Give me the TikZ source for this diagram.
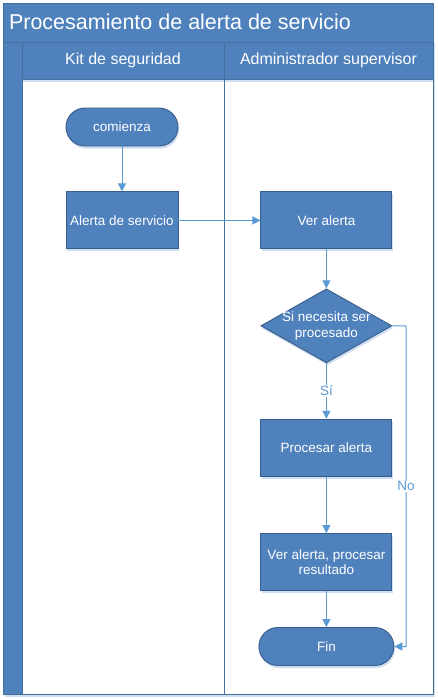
\documentclass[tikz,border=0pt]{standalone}
\usepackage{fontspec}
\setmainfont{Liberation Sans}
\usepackage{tikz}
\usetikzlibrary{positioning,arrows.meta,shapes.geometric,shadows}
\definecolor{laneblue}{RGB}{79,129,189}
\definecolor{edgeblue}{RGB}{56,93,138}
\definecolor{flowblue}{RGB}{91,155,213}
\definecolor{frameblue}{RGB}{65,113,156}
\definecolor{shadeblue}{RGB}{205,222,240}
\newcommand{\nodefont}{\fontsize{13.5}{15.5}\selectfont}
\tikzset{
  blk/.style   ={draw=edgeblue, fill=laneblue, text=white, align=center, font=\nodefont,
                 line width=0.9pt, minimum width=131pt, minimum height=57pt, inner sep=2pt,
                 drop shadow={shadow xshift=1pt, shadow yshift=-2.5pt, fill=shadeblue, opacity=1}},
  term/.style  ={blk, minimum height=38pt, rounded corners=19pt},
  dec/.style   ={blk, diamond, aspect=1.77, minimum width=131pt, minimum height=74pt, inner sep=-2pt},
  ar/.style    ={-{Triangle[length=8pt,width=8pt]}, draw=flowblue, line width=1pt},
  lane/.style  ={draw=frameblue, line width=1pt},
  hdr/.style   ={text=white, font=\fontsize{16}{18}\selectfont},
  lbl/.style   ={fill=white, text=flowblue, font=\nodefont, inner sep=1pt},
}
\begin{document}
\begin{tikzpicture}[x=1pt,y=-1pt]
\useasboundingbox (0,0) rectangle (438,699);
% pool and lanes
\fill[shadeblue] (5,42) rectangle (435,697);
\fill[white] (22,82) rectangle (433,694);
\fill[laneblue] (3,3) rectangle (433,42);
\fill[laneblue] (3,42) rectangle (22,694);
\fill[laneblue] (22,42) rectangle (433,79);
\draw[lane] (3,3) rectangle (433,694);
\draw[lane] (3,42) -- (433,42);
\draw[lane] (22,42) -- (22,694);
\draw[lane] (22,79) -- (433,79);
\draw[lane] (224,42) -- (224,694);
\node[text=white, font=\fontsize{21.5}{24}\selectfont, anchor=west] (title) at (5.5,22) {Procesamiento de alerta de servicio};
\node[hdr] (kit) at (123,60) {Kit de seguridad};
\node[hdr] (adm) at (328.5,60) {Administrador supervisor};

% flow
\node[term,minimum width=112pt] (start) at (122,127) {comienza};
\node[blk,minimum width=112pt,below=45pt of start] (alert) {Alerta de servicio};
\node[blk,right=82pt of alert] (view) {Ver alerta};
\node[dec,below=39pt of view] (need) {Si necesita ser\\ procesado};
\node[blk,below=55.5pt of need] (proc) {Procesar alerta};
\node[blk,below=56.5pt of proc] (res) {Ver alerta, procesar\\ resultado};
\node[term,minimum width=135pt,below=36pt of res] (fin) {Fin};
\coordinate (noturn) at (406,326);

\draw[ar] (start)--(alert); \draw[ar] (alert)--(view); \draw[ar] (view)--(need);
\draw[ar] (need)--(proc) node[midway,lbl] {Sí};
\draw[ar] (proc)--(res); \draw[ar] (res)--(fin);
\draw[ar] (need.east)--(noturn) |- (fin.east) node[pos=0.25,lbl] {No};
\end{tikzpicture}
\end{document}
